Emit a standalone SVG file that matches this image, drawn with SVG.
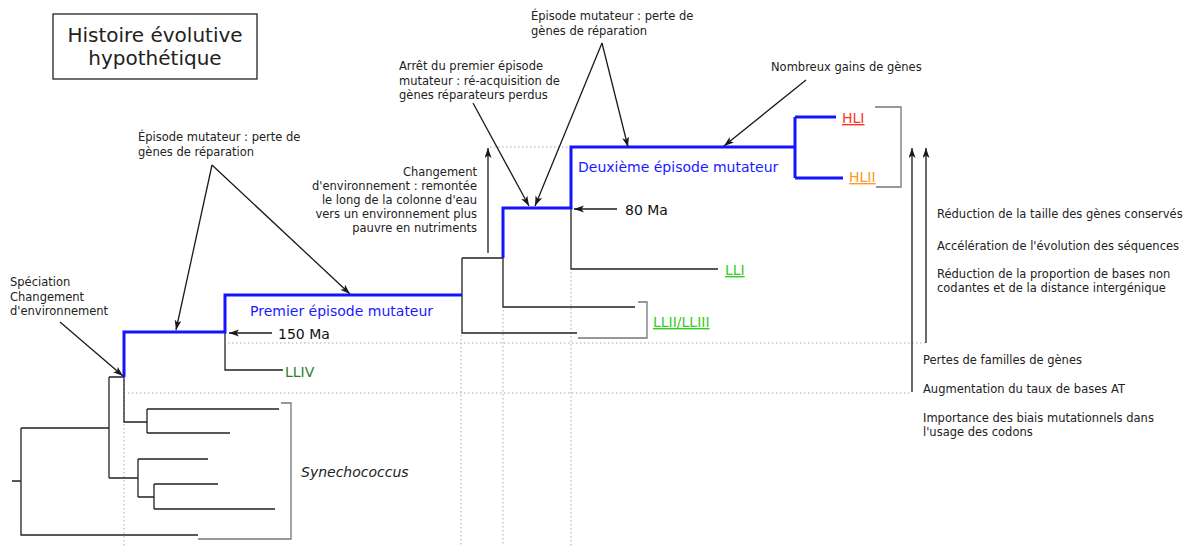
<svg xmlns="http://www.w3.org/2000/svg" width="1190" height="546" viewBox="0 0 1190 546">
<defs>
<marker id="ah" markerUnits="userSpaceOnUse" markerWidth="11" markerHeight="8" refX="10" refY="3.5" orient="auto">
<path d="M0,0 L10,3.5 L0,7 L2.5,3.5 z" fill="#1a1a1a"/>
</marker>
<style>
.t{font-family:"DejaVu Sans",sans-serif;font-size:11.5px;fill:#222}
.m{font-family:"DejaVu Sans",sans-serif;font-size:14px}
.tree{fill:none;stroke:#222;stroke-width:1.3}
.blue{fill:none;stroke:#1414ff;stroke-width:3}
.br{fill:none;stroke:#777;stroke-width:1.3}
.dot{fill:none;stroke:#aaa;stroke-width:1;stroke-dasharray:1.5 2.5}
.arr{fill:none;stroke:#1a1a1a;stroke-width:1.3;marker-end:url(#ah)}
.u{text-decoration:underline}
</style>
</defs>
<rect width="1190" height="546" fill="#fff"/>

<g id="title">
<rect x="53" y="14" width="204" height="65" fill="none" stroke="#222" stroke-width="1.3"/>
<text font-family="DejaVu Sans, sans-serif" font-size="20" fill="#222" text-anchor="middle"><tspan x="155" y="42">Histoire évolutive</tspan><tspan x="155" y="65">hypothétique</tspan></text>
</g>

<g id="guides">
<path class="dot" d="M124,380 V546 M461,335 V546 M503,310 V546 M571,272 V546 M228,343 H925 M128,393 H912 M490,147 H571"/>
</g>

<g id="tree">
<path class="tree" d="M12,481 H21 M21,428 V535 H198 M21,428 H109 M109,377 V478 M109,377 H124 M109,478 H138 M124,377 V422 H147 M147,409 V433 M147,409 H279 M147,433 H230 M138,459 V497 M138,459 H208 M138,497 H154 M154,484 V509 M154,484 H218 M154,509 H275 M225,332 V370 H283 M462,258 V333 H577 M462,258 H503 M503,258 V307 H635 M571,208 V269 H718"/>
<path class="blue" d="M124,377 V332 H225 V295 H462 M503,258 V208 H571 V147 H795 M795,117 V178 M795,117 H836 M795,178 H843"/>
<path class="br" d="M281,403 H291 V539 H198 M638,302 H647 V338 H578 M875,107 H901 V187 H876"/>
</g>

<g id="connectors">
<line class="arr" x1="60" y1="322" x2="123" y2="376"/>
<line class="arr" x1="212" y1="165" x2="176" y2="330"/>
<line class="arr" x1="212" y1="165" x2="350" y2="294"/>
<line class="arr" x1="602" y1="43" x2="628" y2="147"/>
<line class="arr" x1="602" y1="43" x2="535" y2="206"/>
<line class="arr" x1="473" y1="103" x2="529" y2="206"/>
<line class="arr" x1="806" y1="80" x2="724" y2="146"/>
<line class="arr" x1="272" y1="333" x2="229" y2="333"/>
<line class="arr" x1="617" y1="209" x2="574" y2="209"/>
<line class="arr" x1="488" y1="253" x2="488" y2="148"/>
<line class="arr" x1="912" y1="392" x2="912" y2="148"/>
<line class="arr" x1="926" y1="343" x2="926" y2="148"/>
</g>

<g id="speciation"><text class="t"><tspan x="10" y="286">Spéciation</tspan><tspan x="10" y="300.5">Changement</tspan><tspan x="10" y="315">d'environnement</tspan></text></g>
<g id="episode1-note"><text class="t"><tspan x="138" y="141">Épisode mutateur : perte de</tspan><tspan x="138" y="156">gènes de réparation</tspan></text></g>
<g id="episode2-note"><text class="t"><tspan x="531" y="20">Épisode mutateur : perte de</tspan><tspan x="531" y="35">gènes de réparation</tspan></text></g>
<g id="arret-note"><text class="t"><tspan x="399" y="70">Arrêt du premier épisode</tspan><tspan x="399" y="84.5">mutateur : ré-acquisition de</tspan><tspan x="399" y="99">gènes réparateurs perdus</tspan></text></g>
<g id="changement-note"><text class="t" text-anchor="end"><tspan x="477" y="176">Changement</tspan><tspan x="477" y="190">d'environnement : remontée</tspan><tspan x="477" y="204">le long de la colonne d'eau</tspan><tspan x="477" y="218">vers un environnement plus</tspan><tspan x="477" y="232">pauvre en nutriments</tspan></text></g>
<g id="gains-note"><text class="t" x="771" y="71">Nombreux gains de gènes</text></g>

<g id="premier"><text class="m" x="250" y="316" fill="#1a1aff">Premier épisode mutateur</text></g>
<g id="deuxieme"><text class="m" x="578" y="172" fill="#1a1aff">Deuxième épisode mutateur</text></g>
<g id="ma150"><text class="m" x="278" y="339" fill="#111">150 Ma</text></g>
<g id="ma80"><text class="m" x="625" y="215" fill="#111">80 Ma</text></g>

<g id="HLI"><text class="m u" x="842" y="123" fill="#ff3322">HLI</text></g>
<g id="HLII"><text class="m u" x="849" y="182" fill="#ff9922">HLII</text></g>
<g id="LLI"><text class="m u" x="725" y="275" fill="#33cc22">LLI</text></g>
<g id="LLII-LLIII"><text class="m u" x="653" y="327" fill="#33cc22">LLII/LLIII</text></g>
<g id="LLIV"><text class="m" x="285" y="377" fill="#2d7d2d">LLIV</text></g>
<g id="synechococcus"><text class="m" x="301" y="477" fill="#222" font-style="italic">Synechococcus</text></g>

<g id="traits">
<text class="t"><tspan x="937" y="218">Réduction de la taille des gènes conservés</tspan><tspan x="937" y="249.5">Accélération de l'évolution des séquences</tspan><tspan x="937" y="278">Réduction de la proportion de bases non</tspan><tspan x="937" y="292">codantes et de la distance intergénique</tspan></text>
<text class="t"><tspan x="923" y="364">Pertes de familles de gènes</tspan><tspan x="923" y="393">Augmentation du taux de bases AT</tspan><tspan x="923" y="422">Importance des biais mutationnels dans</tspan><tspan x="923" y="436">l'usage des codons</tspan></text>
</g>
</svg>
